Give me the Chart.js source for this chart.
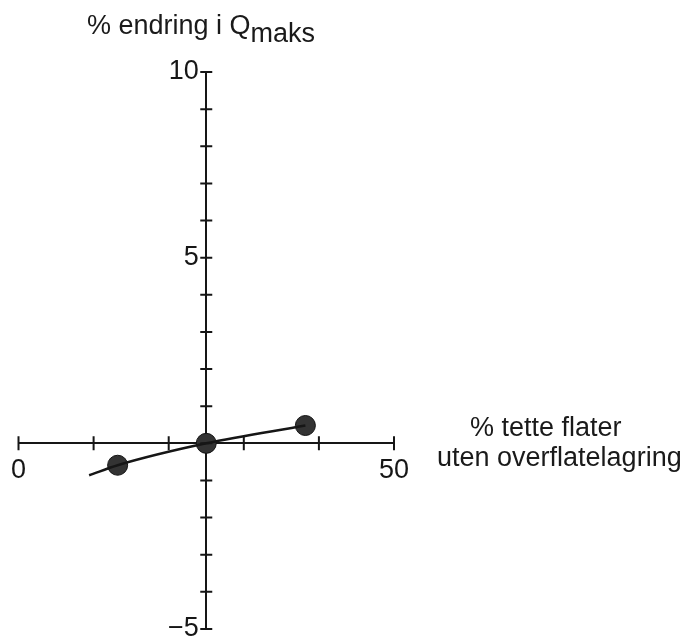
<!DOCTYPE html>
<html lang="no">
<head>
    <meta charset="UTF-8">
    <title>% endring i Qmaks</title>
    <style>
        body {
            margin: 0;
            background-color: #ffffff;
            font-family: "Liberation Sans", Arial, sans-serif;
        }
        .wrap {
            position: relative;
            width: 695px;
            height: 640px;
        }
        .title {
            position: absolute;
            font-size: 27px;
            line-height: 27px;
            color: #1a1a1a;
            white-space: nowrap;
        }
        .title sub {
            font-size: 27px;
            vertical-align: -8px;
            line-height: 0;
        }
    </style>
</head>
<body>
    <div class="wrap">
        <canvas id="chart" width="695" height="640"></canvas>
        <div class="title" style="left:87px; top:12px;">% endring i Q<sub>maks</sub></div>
        <div class="title" style="left:470px; top:414px;">% tette flater</div>
        <div class="title" style="left:437px; top:444px;">uten overflatelagring</div>
    </div>

    <script src="https://cdn.jsdelivr.net/npm/chart.js"></script>
    <script>
        // data
        const curveX = [9.4, 13.2, 25, 38.2];
        const curveY = [-0.86, -0.59, 0, 0.48];
        const dotX = [13.2, 25, 38.2];
        const dotY = [-0.59, 0, 0.48];

        // axis ranges and labelled ticks
        const xRange = [0, 50];
        const yRange = [-5, 10];
        const xTickLabels = ['0', '50'];
        const xTickValues = [0, 50];
        const yTickLabels = ['\u22125', '5', '10'];
        const yTickValues = [-5, 5, 10];

        const ink = '#161616';

        // crossing tick marks through both axes
        const crossTicks = {
            id: 'crossTicks',
            afterDatasetsDraw(chart) {
                const c = chart.ctx;
                const xs = chart.scales.x;
                const ys = chart.scales.y;
                const y0 = ys.getPixelForValue(0);
                const x0 = xs.getPixelForValue(25);
                c.save();
                c.strokeStyle = ink;
                c.lineWidth = 2;
                c.beginPath();
                xs.ticks.forEach(t => {
                    const px = xs.getPixelForValue(t.value);
                    c.moveTo(px, y0 - 7);
                    c.lineTo(px, y0 + 7);
                });
                ys.ticks.forEach(t => {
                    const py = ys.getPixelForValue(t.value);
                    c.moveTo(x0 - 6, py);
                    c.lineTo(x0 + 6, py);
                });
                c.stroke();
                c.restore();
            }
        };

        const ctx = document.getElementById('chart').getContext('2d');
        const chart = new Chart(ctx, {
            type: 'scatter',
            data: {
                datasets: [{
                    type: 'line',
                    data: curveX.map((x, i) => ({ x: x, y: curveY[i] })),
                    borderColor: ink,
                    borderWidth: 2.5,
                    pointRadius: 0,
                    cubicInterpolationMode: 'monotone',
                    fill: false
                }, {
                    data: dotX.map((x, i) => ({ x: x, y: dotY[i] })),
                    backgroundColor: '#333333',
                    borderColor: '#111111',
                    borderWidth: 1,
                    pointRadius: 10
                }]
            },
            plugins: [crossTicks],
            options: {
                responsive: false,
                animation: false,
                layout: {
                    padding: { left: 18, right: 301, top: 72, bottom: 8 }
                },
                plugins: {
                    legend: { display: false },
                    tooltip: { enabled: false }
                },
                scales: {
                    x: {
                        type: 'linear',
                        min: xRange[0],
                        max: xRange[1],
                        position: { y: 0 },
                        grid: { display: false, drawTicks: false },
                        border: { display: true, color: ink, width: 2 },
                        ticks: {
                            stepSize: 10,
                            padding: 11,
                            maxRotation: 0,
                            autoSkip: false,
                            color: ink,
                            font: { family: 'Liberation Sans', size: 27 },
                            callback: v => {
                                const i = xTickValues.indexOf(v);
                                return i >= 0 ? xTickLabels[i] : '';
                            }
                        }
                    },
                    y: {
                        type: 'linear',
                        min: yRange[0],
                        max: yRange[1],
                        position: { x: 25 },
                        grid: { display: false, drawTicks: false },
                        border: { display: true, color: ink, width: 2 },
                        afterFit: s => { s.paddingTop = 0; s.paddingBottom = 0; },
                        ticks: {
                            stepSize: 1,
                            autoSkip: false,
                            color: ink,
                            font: { family: 'Liberation Sans', size: 27 },
                            // labels sit flush on a centred axis, so a trailing space keeps them off the ticks
                            callback: v => {
                                const i = yTickValues.indexOf(v);
                                return i >= 0 ? yTickLabels[i] + ' ' : '';
                            }
                        }
                    }
                }
            }
        });
    </script>
</body>
</html>
